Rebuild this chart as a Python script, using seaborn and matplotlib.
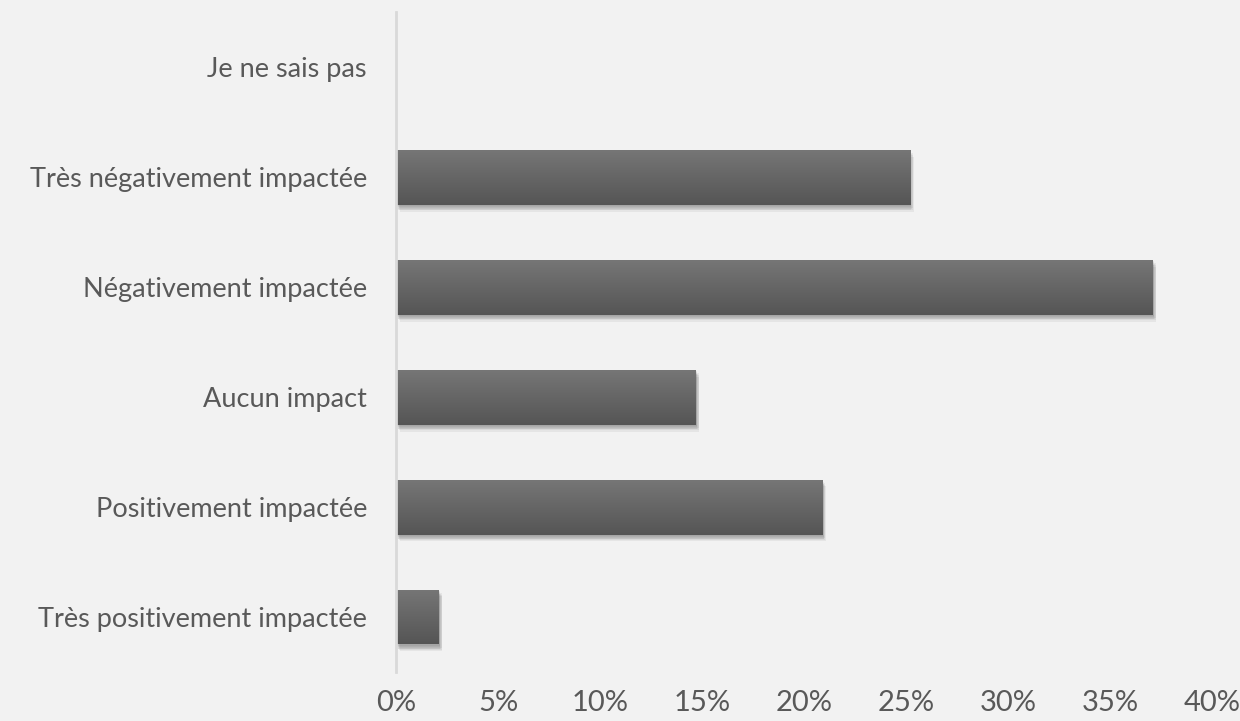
import matplotlib
matplotlib.use("Agg")
import matplotlib.pyplot as plt
import matplotlib.patheffects as pe
import numpy as np
import pandas as pd
import seaborn as sns

categories = [
    "Je ne sais pas",
    "Très négativement impactée",
    "Négativement impactée",
    "Aucun impact",
    "Positivement impactée",
    "Très positivement impactée",
]
shares = [0.0, 25.2, 37.1, 14.7, 20.9, 2.1]
tick_values = [0, 5, 10, 15, 20, 25, 30, 35, 40]
tick_labels = [f"{v}%" for v in tick_values]

bg = "#f2f2f2"
text_color = "#595959"

sns.set_theme(style="white")
plt.rcParams["font.family"] = ["Lato", "DejaVu Sans"]

df = pd.DataFrame({"category": categories, "share": shares})

fig = plt.figure(figsize=(12.4, 7.21), dpi=100, facecolor=bg)
ax = fig.add_axes([0.3194, 0.068, 0.658, 0.915])
ax.set_facecolor(bg)

sns.barplot(data=df, y="category", x="share", order=categories,
            color="#666666", width=0.5, ax=ax, saturation=1)

# soft shadow built from several faint offset copies
shadow = []
for dx, dy in [(0.5, -1), (1, -2), (1.5, -3), (2, -4), (2.5, -5), (1, -3.5), (2, -2.5)]:
    shadow.append(pe.SimplePatchShadow(offset=(dx, dy), shadow_rgbFace="#000000", alpha=0.05))
shadow.append(pe.Normal())

# vertical gradient fill for every bar
grad = np.linspace(0, 1, 256).reshape(-1, 1)
cmap = matplotlib.colors.LinearSegmentedColormap.from_list(
    "bar", ["#767676", "#555555"])
for patch in ax.patches:
    x0, y0 = patch.get_x(), patch.get_y()
    w, h = patch.get_width(), patch.get_height()
    if w <= 0:
        patch.set_visible(False)
        continue
    patch.set_edgecolor("none")
    patch.set_path_effects(shadow)
    im = ax.imshow(grad, extent=(x0, x0 + w, y0 + h, y0), cmap=cmap,
                   aspect="auto", zorder=patch.get_zorder() + 0.1,
                   interpolation="bicubic")
    im.set_clip_path(patch)

ax.set_xlim(0, 40)
ax.set_ylim(5.5, -0.5)
ax.set_xticks(tick_values)
ax.set_xticklabels(tick_labels)
ax.set_xlabel("")
ax.set_ylabel("")

for side in ["top", "right", "bottom"]:
    ax.spines[side].set_visible(False)
ax.spines["left"].set_color("#d9d9d9")
ax.spines["left"].set_linewidth(2)

ax.tick_params(axis="x", length=0, pad=13, labelsize=21, labelcolor=text_color)
ax.tick_params(axis="y", length=0, pad=21, labelsize=19.5, labelcolor=text_color)

fig.savefig("out.png", dpi=100, facecolor=bg)
